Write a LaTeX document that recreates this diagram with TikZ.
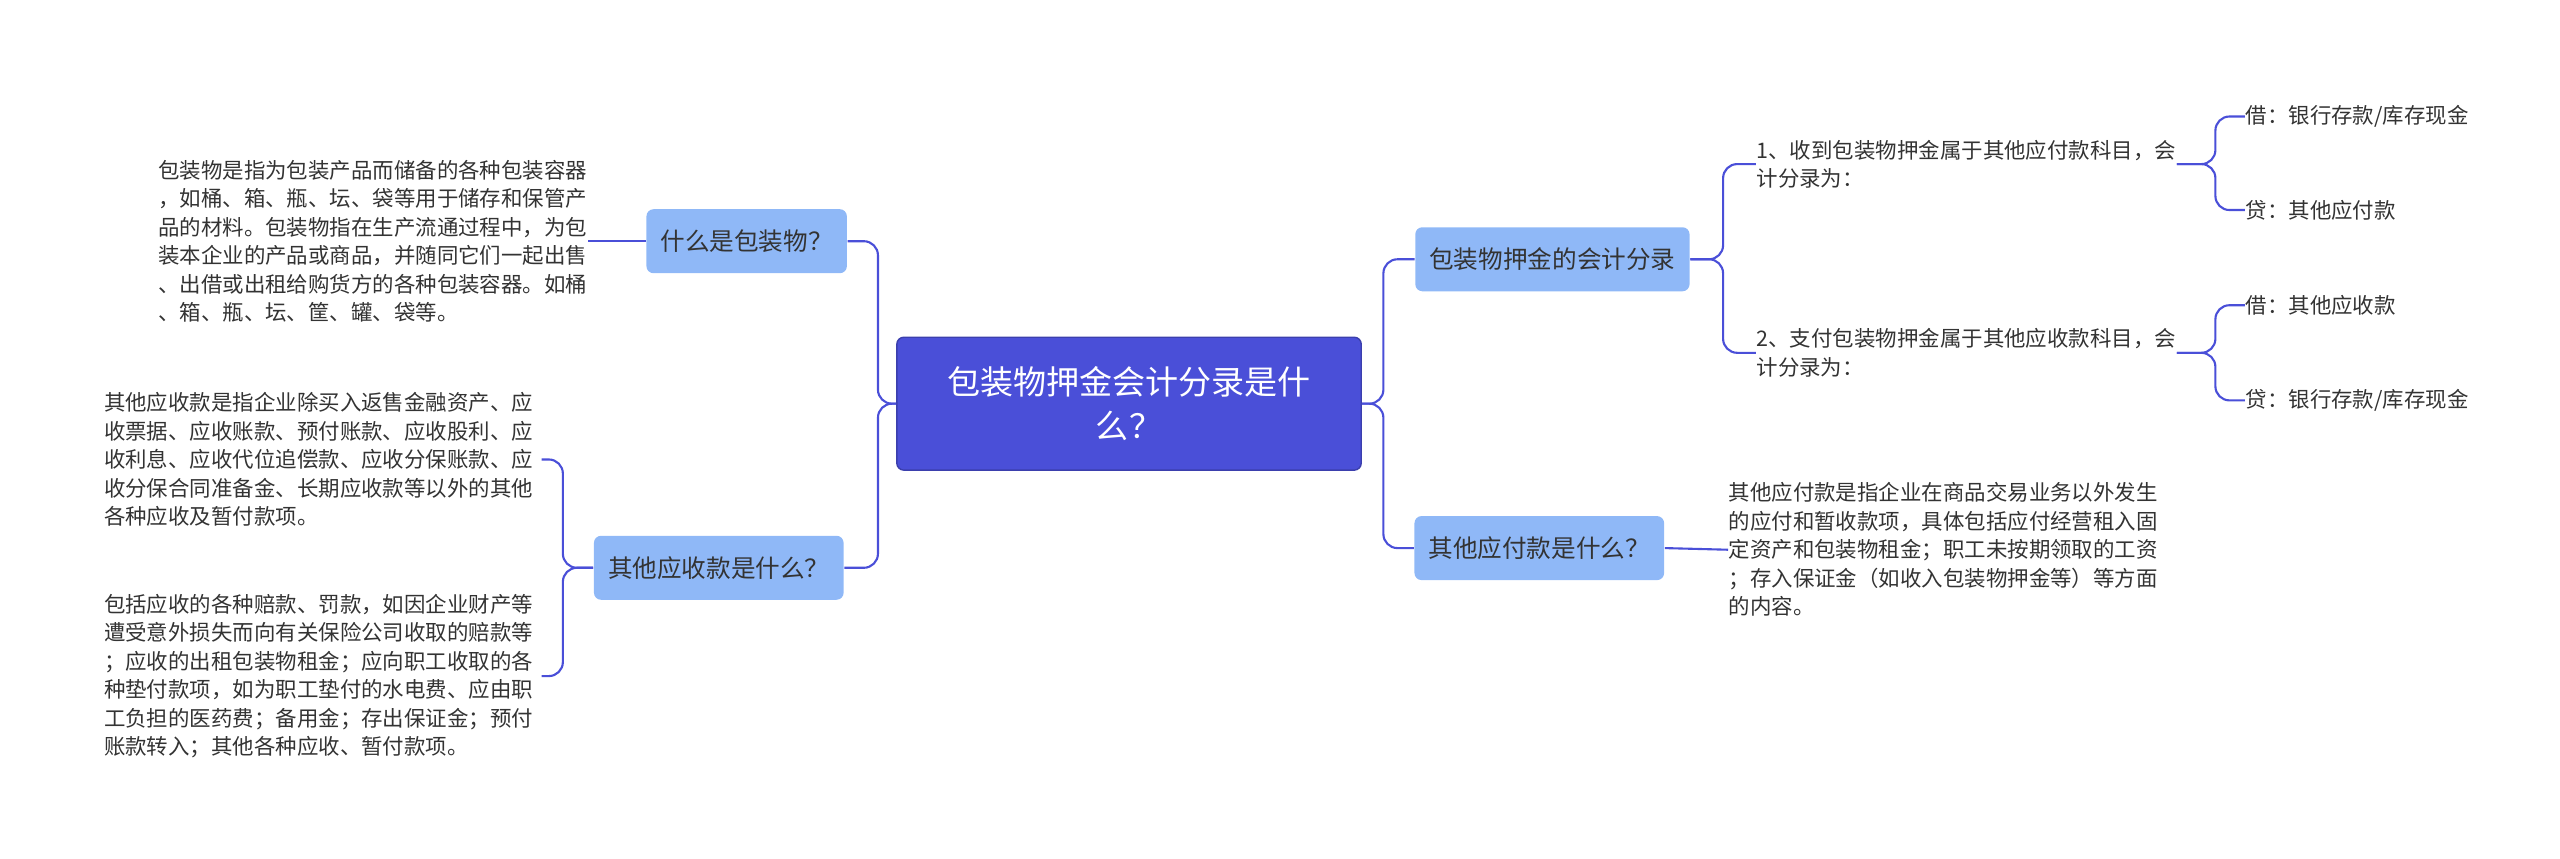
\documentclass[tikz,border=0pt]{standalone}
\usepackage{fontspec}
\setmainfont{Noto Sans CJK SC}
\usetikzlibrary{positioning}
\definecolor{rootblue}{HTML}{4A4FD8}
\definecolor{branchblue}{HTML}{8FB8F7}
\definecolor{textgray}{HTML}{333333}

\begin{document}
\begin{tikzpicture}[x=0.01641cm, y=-0.01641cm,
    rootnode/.style={rectangle, rounded corners=2pt, fill=rootblue, draw=rootblue!80!black, text=white,
        minimum width=283*0.01641cm, minimum height=81*0.01641cm, align=center,
        font=\fontsize{9.4}{12.5}\selectfont},
    branchnode/.style={rectangle, rounded corners=2pt, fill=branchblue, text=textgray,
        minimum height=39*0.01641cm, inner xsep=4pt, font=\fontsize{7}{9}\selectfont},
    textnode/.style={anchor=west, align=left, inner sep=0pt, text=textgray,
        font=\fontsize{6.1}{8.1}\selectfont},
    link/.style={draw=rootblue, line width=0.6pt, rounded corners=4pt}
    ]
    \useasboundingbox (0,0) rectangle (1560,523);
    %Nodes
    \node[rootnode] (root) at (688,246) {包装物押金会计分录是什\\么？};
    \node[branchnode] (whatpkg) at (455,147) {什么是包装物？};
    \node[branchnode] (otherrec) at (438,346) {其他应收款是什么？};
    \node[branchnode] (entry) at (946,158) {包装物押金的会计分录};
    \node[branchnode] (otherpay) at (938,334) {其他应付款是什么？};

    \node[textnode] (pkgtext) at (96,147) {包装物是指为包装产品而储备的各种包装容器\\，如桶、箱、瓶、坛、袋等用于储存和保管产\\品的材料。包装物指在生产流通过程中，为包\\装本企业的产品或商品，并随同它们一起出售\\、出借或出租给购货方的各种包装容器。如桶\\、箱、瓶、坛、筐、罐、袋等。};
    \node[textnode] (rectextA) at (63,280) {其他应收款是指企业除买入返售金融资产、应\\收票据、应收账款、预付账款、应收股利、应\\收利息、应收代位追偿款、应收分保账款、应\\收分保合同准备金、长期应收款等以外的其他\\各种应收及暂付款项。};
    \node[textnode] (rectextB) at (63,412) {包括应收的各种赔款、罚款，如因企业财产等\\遭受意外损失而向有关保险公司收取的赔款等\\；应收的出租包装物租金；应向职工收取的各\\种垫付款项，如为职工垫付的水电费、应由职\\工负担的医药费；备用金；存出保证金；预付\\账款转入；其他各种应收、暂付款项。};
    \node[textnode] (recvstep) at (1070,100) {1、收到包装物押金属于其他应付款科目，会\\计分录为：};
    \node[textnode] (paystep) at (1070,215) {2、支付包装物押金属于其他应收款科目，会\\计分录为：};
    \node[textnode] (leafA) at (1368,71) {借：银行存款/库存现金};
    \node[textnode] (leafB) at (1368,128) {贷：其他应付款};
    \node[textnode] (leafC) at (1368,186) {借：其他应收款};
    \node[textnode] (leafD) at (1368,244) {贷：银行存款/库存现金};
    \node[textnode] (paytext) at (1053,335) {其他应付款是指企业在商品交易业务以外发生\\的应付和暂收款项，具体包括应付经营租入固\\定资产和包装物租金；职工未按期领取的工资\\；存入保证金（如收入包装物押金等）等方面\\的内容。};

    %Lines
    \draw[link] (root.west) -- (535,246) |- (whatpkg.east);
    \draw[link] (root.west) -- (535,246) |- (otherrec.east);
    \draw[link] (root.east) -- (843,246) |- (entry.east -| entry.west);
    \draw[link] (root.east) -- (843,246) |- (otherpay.west);
    \draw[link] (whatpkg.west) -- (pkgtext.east |- whatpkg.west);
    \draw[link] (otherrec.west) -- (343,346) |- (330,280);
    \draw[link] (otherrec.west) -- (343,346) |- (330,412);
    \draw[link] (entry.east) -- (1050,158) |- (recvstep.west);
    \draw[link] (entry.east) -- (1050,158) |- (paystep.west);
    \draw[link] (recvstep.east) -- (1350,100) |- (leafA.west);
    \draw[link] (recvstep.east) -- (1350,100) |- (leafB.west);
    \draw[link] (paystep.east) -- (1350,215) |- (leafC.west);
    \draw[link] (paystep.east) -- (1350,215) |- (leafD.west);
    \draw[link] (otherpay.east) -- (paytext.west);
\end{tikzpicture}
\end{document}
